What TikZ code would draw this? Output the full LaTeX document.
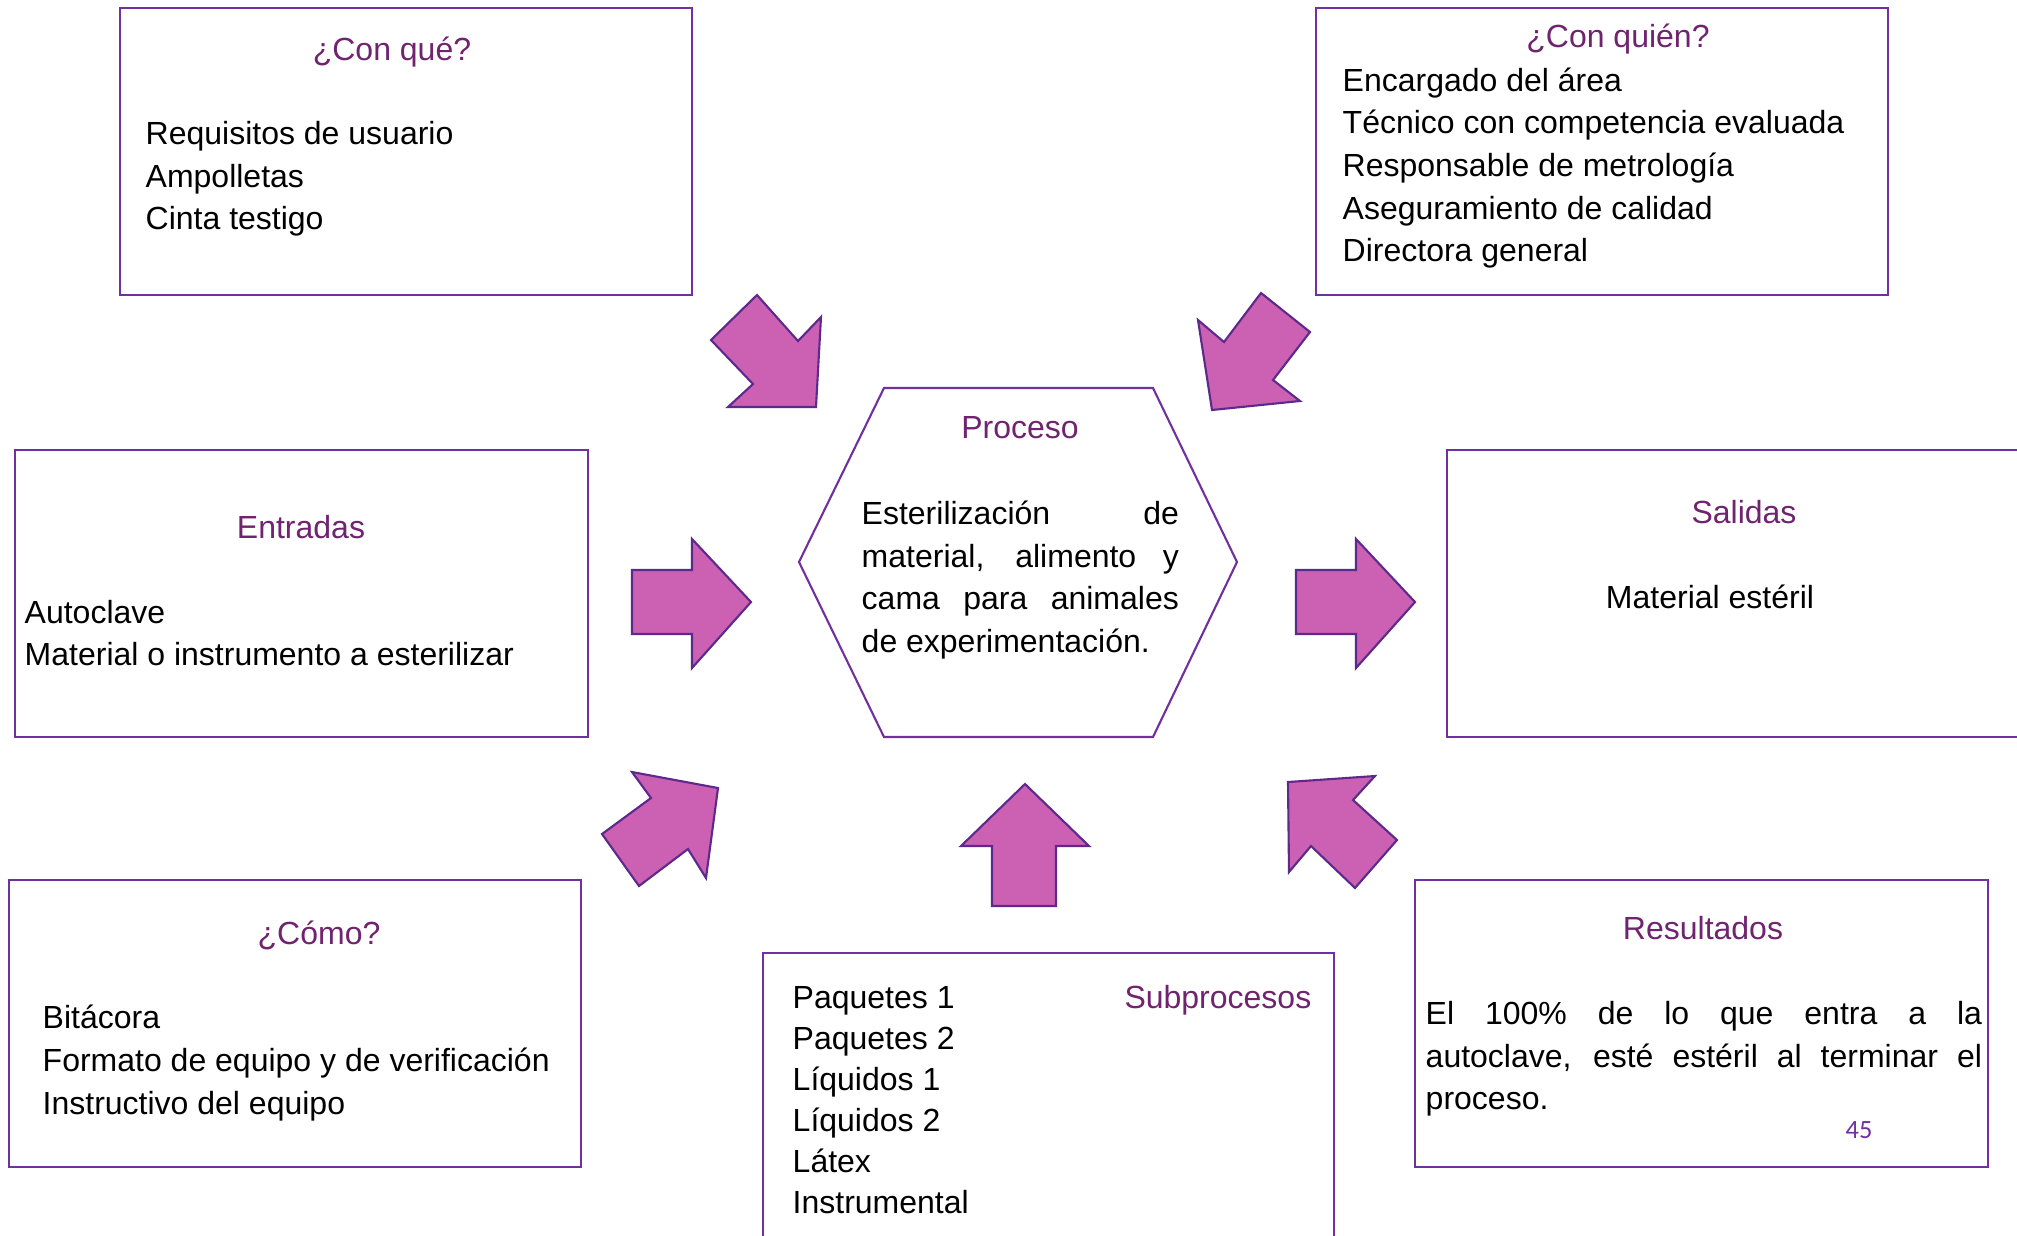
\documentclass[tikz,border=0pt]{standalone}
\usepackage{fontspec}
\setmainfont{Liberation Sans}
\newfontfamily\pagefont{Carlito}
\usetikzlibrary{positioning}
\definecolor{Frame}{HTML}{7030A0}
\definecolor{Plum}{HTML}{70236F}
\definecolor{Orchid}{HTML}{CC60B3}
\definecolor{ArrowLine}{HTML}{5B2A8C}

\begin{document}
\begin{tikzpicture}[x=0.01cm,y=-0.01cm,
  every node/.style={font=\fontsize{9.1}{12.1}\selectfont,anchor=west,inner sep=0pt},
  frame/.style={draw=Frame,line width=0.6pt},
  heading/.style={text=Plum,anchor=center},
  blockarrow/.style={draw=ArrowLine,fill=Orchid,line width=0.6pt,line join=miter}]
  \clip (0,0) rectangle (2017,1235);
  % frames
  \draw[frame] (120,8) rectangle (692,295);
  \draw[frame] (1316,8) rectangle (1888,295);
  \draw[frame] (15,450) rectangle (588,737);
  \draw[frame] (1447,450) rectangle (2040,737);
  \draw[frame] (9,880) rectangle (581,1167);
  \draw[frame] (763,953) rectangle (1334,1260);
  \draw[frame] (1415,880) rectangle (1988,1167);
  \draw[frame] (884,388) -- (1153,388) -- (1237,562) -- (1153,737) -- (884,737) -- (799,562) -- cycle;
  % texts
  \node[heading] (whattitle) at (392,52) {¿Con qué?};
  \node[align=left] (whatlist) at (145,179) {Requisitos de usuario\\Ampolletas\\Cinta testigo};
  \node[heading] (whotitle) at (1618,39) {¿Con quién?};
  \node[align=left] (wholist) at (1342,168) {Encargado del área\\Técnico con competencia evaluada\\Responsable de metrología\\Aseguramiento de calidad\\Directora general};
  \node[heading] (intitle) at (301,527) {Entradas};
  \node[align=left] (inlist) at (24,633) {Autoclave\\Material o instrumento a esterilizar};
  \node[heading] (outtitle) at (1744,512) {Salidas};
  \node[anchor=center] (outitem) at (1710,597) {Material estéril};
  \node[heading] (proctitle) at (1020,428) {Proceso};
  \node[text width=3.17cm,align=justify] (proctext) at (861,580)
    {Esterilización de\linebreak material, alimento y\linebreak cama para animales\linebreak de experimentación.};
  \node[heading] (howtitle) at (319,935) {¿Cómo?};
  \node[align=left] (howlist) at (42,1063) {Bitácora\\Formato de equipo y de verificación\\Instructivo del equipo};
  \node[heading,anchor=east] (subtitle) at (1312,1000) {Subprocesos};
  \node[align=left,font=\fontsize{9.1}{11.65}\selectfont] (sublist) at (792,1100) {Paquetes 1\\Paquetes 2\\Líquidos 1\\Líquidos 2\\Látex\\Instrumental};
  \node[heading] (restitle) at (1703,928) {Resultados};
  \node[text width=5.56cm,align=justify] (restext) at (1425,1059)
    {El 100\% de lo que entra a la\linebreak autoclave, esté estéril al terminar el\linebreak proceso.};
  \node[anchor=center,text=Frame,font=\pagefont\fontsize{7.5}{9}\selectfont] (pagenum) at (1859,1130) {45};
  % block arrows towards the process
  \draw[blockarrow] (757,295) -- (711,340) -- (753,384) -- (728,407) -- (816,407) -- (821,317) -- (798,341) -- cycle;
  \draw[blockarrow] (1261,293) -- (1310,332) -- (1273,380) -- (1300,401) -- (1212,410) -- (1198,320) -- (1224,342) -- cycle;
  \draw[blockarrow] (632,570) -- (692,570) -- (692,539) -- (751,602) -- (692,668) -- (692,634) -- (632,634) -- cycle;
  \draw[blockarrow] (1296,570) -- (1356,570) -- (1356,539) -- (1415,602) -- (1356,668) -- (1356,634) -- (1296,634) -- cycle;
  \draw[blockarrow] (992,906) -- (992,846) -- (961,846) -- (1025,784) -- (1089,846) -- (1056,846) -- (1056,906) -- cycle;
  \draw[blockarrow] (632,772) -- (718,788) -- (706,878) -- (688,849) -- (639,886) -- (602,834) -- (651,798) -- cycle;
  \draw[blockarrow] (1288,782) -- (1375,776) -- (1353,800) -- (1397,840) -- (1355,888) -- (1311,846) -- (1289,872) -- cycle;
\end{tikzpicture}
\end{document}
